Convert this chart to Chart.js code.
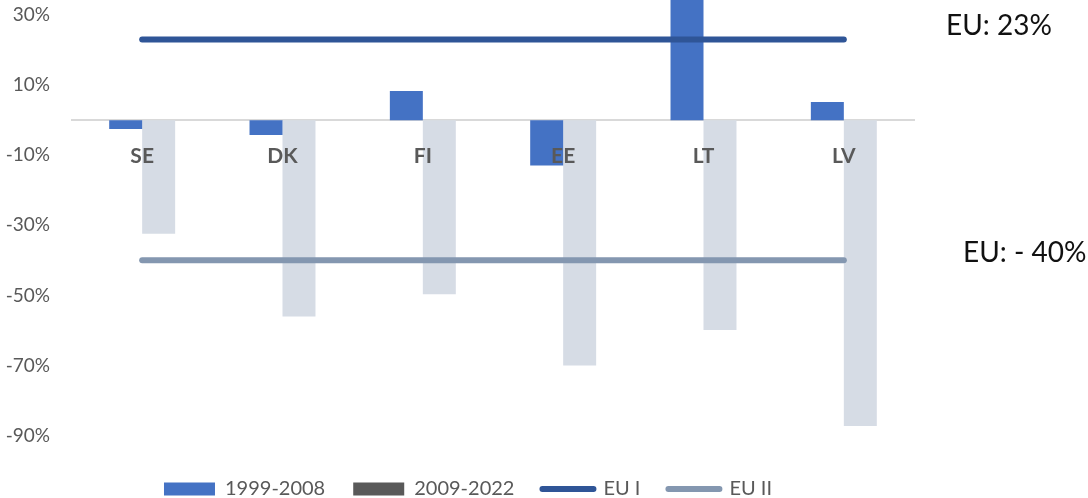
<!DOCTYPE html>
<html>
<head>
<meta charset="utf-8">
<script src="https://cdn.jsdelivr.net/npm/chart.js@4/dist/chart.umd.min.js"></script>
<style>
  html, body { margin: 0; padding: 0; background: #ffffff; overflow: hidden; }
  #wrap { position: relative; width: 1088px; height: 498px; }
</style>
</head>
<body>
<div id="wrap"><canvas id="chart" width="1088" height="498"></canvas></div>
<script>
// Country codes along the category axis
const countries = ['SE', 'DK', 'FI', 'EE', 'LT', 'LV'];

// Change per period, in percent
const period1 = [-2.5, -4.2, 8.3, -12.9, 40, 5.2];     // 1999-2008
const period2 = [-32.4, -56.0, -49.7, -70.0, -59.9, -87.3]; // 2009-2022

// EU reference levels for each period
const euI = [23, 23, 23, 23, 23, 23];
const euII = [-40, -40, -40, -40, -40, -40];

// Value-axis tick labels
const yTicks = [30, 10, -10, -30, -50, -70, -90];

const seriesNames = ['1999-2008', '2009-2022', 'EU I', 'EU II'];

const COLORS = {
  blue: '#4472c4',
  pale: '#d6dce5',
  darkGray: '#595959',
  euI: '#2f5597',
  euII: '#8497b0',
  axis: '#d9d9d9',
  text: '#595959'
};

const FONT = 'Lato, "Open Sans", sans-serif';

// Free-standing annotations to the right of the plot
const notes = [
  { text: 'EU: 23%', x: 946, y: 26 },
  { text: 'EU: - 40%', x: 963, y: 253 }
];

const notesPlugin = {
  id: 'notes',
  afterLayout(chart) {
    // nudge the legend row a little to the right of the plot's centre
    if (chart.legend) {
      chart.legend.left += 11;
      chart.legend.right += 11;
    }
  },
  afterDraw(chart) {
    const ctx = chart.ctx;
    ctx.save();
    ctx.font = '28px ' + FONT;
    ctx.fillStyle = '#111111';
    ctx.textAlign = 'left';
    ctx.textBaseline = 'middle';
    notes.forEach(n => ctx.fillText(n.text, n.x, n.y));
    ctx.restore();
  }
};

new Chart(document.getElementById('chart'), {
  data: {
    labels: countries,
    datasets: [
      { type: 'bar', label: seriesNames[0], data: period1, backgroundColor: COLORS.blue, order: 2 },
      { type: 'bar', label: seriesNames[1], data: period2, backgroundColor: COLORS.pale, order: 2 },
      { type: 'line', label: seriesNames[2], data: euI, borderColor: COLORS.euI, borderWidth: 6,
        borderCapStyle: 'round', pointRadius: 0, fill: false, order: 1 },
      { type: 'line', label: seriesNames[3], data: euII, borderColor: COLORS.euII, borderWidth: 6,
        borderCapStyle: 'round', pointRadius: 0, fill: false, order: 1 }
    ]
  },
  options: {
    responsive: false,
    animation: false,
    events: [],
    layout: { padding: { left: 0, right: 174, top: 0, bottom: -11 } },
    datasets: {
      bar: { categoryPercentage: 0.47, barPercentage: 1 }
    },
    scales: {
      x: {
        type: 'category',
        position: { y: 0 },
        grid: { display: false, drawTicks: false },
        border: { display: true, color: COLORS.axis, width: 2 },
        ticks: {
          z: 1,
          color: COLORS.text,
          font: { family: FONT, size: 21, weight: 'bold' },
          padding: 23,
          maxRotation: 0
        },
        afterFit(scale) { scale.paddingLeft = 0; scale.paddingRight = 0; }
      },
      y: {
        min: -94.4,
        max: 34.3,
        grid: { display: false, drawTicks: false },
        border: { display: false },
        ticks: {
          color: COLORS.text,
          font: { family: FONT, size: 19 },
          padding: 22,
          callback: v => v + '%'
        },
        afterBuildTicks(scale) { scale.ticks = yTicks.map(v => ({ value: v })); },
        afterFit(scale) { scale.width = 72; scale.paddingTop = 0; scale.paddingBottom = 0; }
      }
    },
    plugins: {
      tooltip: { enabled: false },
      legend: {
        position: 'bottom',
        labels: {
          usePointStyle: true,
          pointStyleWidth: 51,
          boxHeight: 13,
          padding: 28,
          color: COLORS.text,
          font: { family: FONT, size: 20 },
          generateLabels() {
            const fills = [COLORS.blue, COLORS.darkGray, COLORS.euI, COLORS.euII];
            return seriesNames.map((name, i) => {
              const isLine = i >= 2;
              return {
                text: name,
                datasetIndex: i,
                fillStyle: fills[i],
                strokeStyle: fills[i],
                lineWidth: isLine ? 6 : 0,
                lineCap: 'round',
                pointStyle: isLine ? 'line' : 'rect',
                fontColor: COLORS.text,
                hidden: false
              };
            });
          }
        }
      }
    }
  },
  plugins: [notesPlugin]
});
</script>
</body>
</html>
